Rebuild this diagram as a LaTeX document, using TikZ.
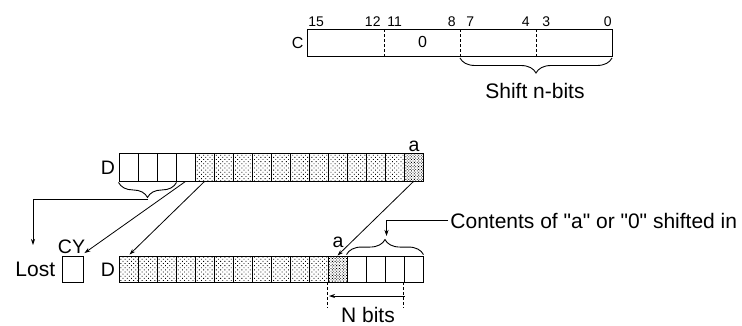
\documentclass[tikz,border=0pt]{standalone}
\usepackage{fontspec}
\setmainfont{Liberation Sans}
\usetikzlibrary{patterns.meta,decorations.pathreplacing,arrows.meta}
\begin{document}
\begin{tikzpicture}[x=1pt,y=-1pt,
  line width=0.9pt,
  cell/.style={draw, line width=0.9pt, minimum width=19pt, inner sep=0pt},
  light/.style={pattern={Dots[distance=3pt,radius=0.6pt,angle=45]}},
  dense/.style={pattern={Dots[distance=2pt,radius=0.6pt,angle=45]}},
  arr/.style={line width=0.8pt, -{Stealth[length=6pt,width=4pt]}},
  dsh/.style={line width=0.8pt, dash pattern=on 3pt off 2pt},
  brc/.style={decorate, decoration={brace, amplitude=15pt}, line width=0.9pt},
  big/.style={font=\fontsize{21}{24}\selectfont, inner sep=0pt},
  mid/.style={font=\fontsize{19.5}{22}\selectfont, inner sep=0pt},
  sml/.style={font=\fontsize{14}{16}\selectfont, inner sep=0pt},
  mdl/.style={font=\fontsize{16}{18}\selectfont, inner sep=0pt}]
\useasboundingbox (0,0) rectangle (742,325);

% ---- C register ----
\node[draw, line width=0.9pt, minimum width=305pt, minimum height=27pt, inner sep=0pt, anchor=north west] (creg) at (307,29) {};
\draw[dsh] (384,29) -- (384,56);
\draw[dsh] (460,29) -- (460,56);
\draw[dsh] (536,29) -- (536,56);
\node[mdl, anchor=east] (clab) at (304,42.5) {C};
\node[mdl] (czero) at (422.5,42) {0};
\node[sml, anchor=base west] (n15) at (308,26.5) {15};
\node[sml, anchor=base east] (n12) at (381,26.5) {12};
\node[sml, anchor=base west] (n11) at (387,26.5) {11};
\node[sml, anchor=base east] (n8) at (456,26.5) {8};
\node[sml, anchor=base west] (n7) at (466,26.5) {7};
\node[sml, anchor=base east] (n4) at (530,26.5) {4};
\node[sml, anchor=base west] (n3) at (542,26.5) {3};
\node[sml, anchor=base east] (n0) at (612,26.5) {0};
\draw[brc] (612,58) -- (460,58);
\node[big, anchor=base] (shift) at (535,98) {Shift n-bits};

% ---- top D register ----
\foreach \i in {1,...,4}
  \node[cell, minimum height=28pt] (t\i) at ({119+19*(\i-0.5)},167) {};
\foreach \i in {5,...,15}
  \node[cell, light, minimum height=28pt] (t\i) at ({119+19*(\i-0.5)},167) {};
\node[cell, dense, minimum height=28pt] (t16) at ({119+19*15.5},167) {};
\node[mid, anchor=east] (dtop) at (115.5,167.5) {D};
\node[mid, anchor=base] (atop) at (414,151) {a};
\draw[brc] ([yshift=-1pt]t3.south east) -- ([yshift=-1pt]t1.south west);
\coordinate (lostbr) at (148,199);

% ---- bottom D register ----
\foreach \i in {1,...,11}
  \node[cell, light, minimum height=26pt] (b\i) at ({119+19*(\i-0.5)},269) {};
\node[cell, dense, minimum height=26pt] (b12) at ({119+19*11.5},269) {};
\foreach \i in {13,...,16}
  \node[cell, minimum height=26pt] (b\i) at ({119+19*(\i-0.5)},269) {};
\node[mid, anchor=east] (dbot) at (115.5,269.5) {D};
\node[mid, anchor=base] (abot) at (338,247) {a};
\draw[brc] ([yshift=1pt]b13.north west) -- ([yshift=1pt]b16.north east);
\coordinate (inbr) at (386.5,236);

% ---- CY and Lost ----
\node[draw, line width=0.9pt, minimum width=21pt, minimum height=26pt, inner sep=0pt] (cy) at (72.5,269.5) {};
\node[mid, anchor=base] (cylab) at (71.5,253) {CY};
\node[big, anchor=base west] (lost) at (15,276) {Lost};
\coordinate (lostend) at (33,245);

% ---- connectors ----
\draw[line width=0.8pt] (lostbr) -- (33,199);
\draw[arr] (33,199) -- (lostend);
\draw[arr] (t4.south) -- ([xshift=1pt,yshift=3pt]cy.north east);
\draw[arr] (t5.south) -- ([xshift=1pt,yshift=1pt]b1.north);
\draw[arr] (t16.south) -- (b12.north);

% ---- contents label ----
\node[big, anchor=base west] (contents) at (450,228) {Contents of \textquotedbl a\textquotedbl{} or \textquotedbl 0\textquotedbl{} shifted in};
\draw[arr] ([xshift=-2pt]contents.west) -| (inbr);

% ---- N bits ----
\draw[dsh] (b12.south west) -- ++(0,26) coordinate (nbl);
\draw[dsh] (b16.south west) -- ++(0,26) coordinate (nbr);
\coordinate (nbs) at (405,296);
\coordinate (nbe) at (329,296);
\draw[arr] (nbs) -- (nbe);
\node[big, anchor=base] (nbits) at (368,322) {N bits};
\end{tikzpicture}
\end{document}
